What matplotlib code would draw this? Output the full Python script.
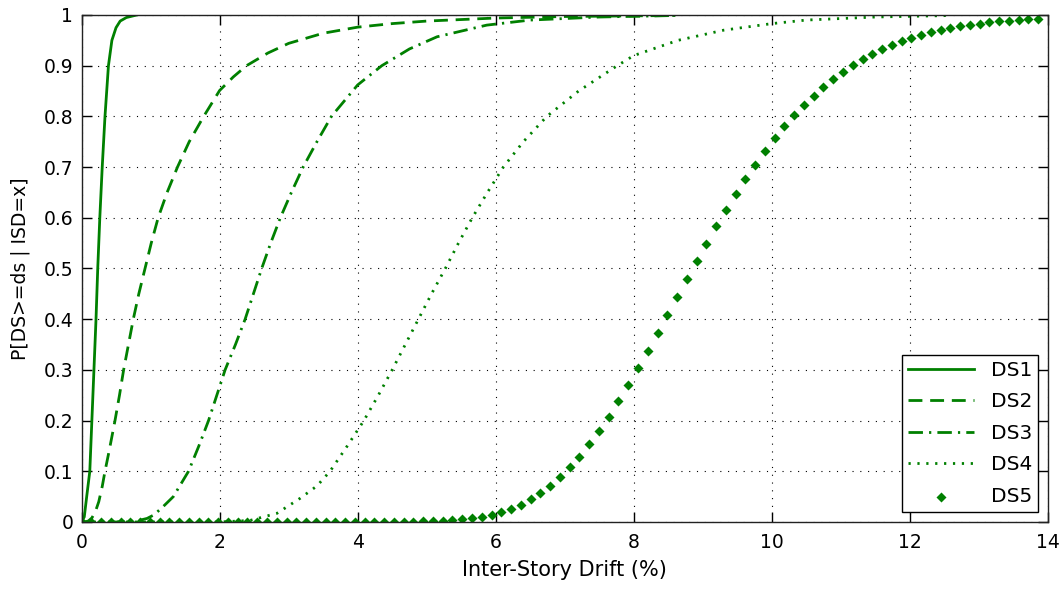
import numpy as np
import matplotlib
matplotlib.use('Agg')
import matplotlib.pyplot as plt

''' Fragility curves, P[DS>=ds | ISD=x], read off the reference picture. '''

green = '#008000'

ds1_x = [0, 0.04, 0.075, 0.12, 0.15, 0.18, 0.21, 0.235, 0.265, 0.30, 0.34, 0.39, 0.44, 0.50, 0.56, 0.65, 0.80]
ds1_y = [0, 0.01, 0.05, 0.10, 0.20, 0.30, 0.40, 0.50, 0.60, 0.70, 0.80, 0.90, 0.95, 0.975, 0.988, 0.995, 1.0]

ds2_x = [0, 0.05, 0.10, 0.15, 0.20, 0.25, 0.30, 0.34, 0.40, 0.485, 0.55, 0.61, 0.68, 0.75, 0.83, 0.92,
         1.01, 1.11, 1.24, 1.39, 1.56, 1.77, 2.0, 2.2, 2.39, 2.7, 3.0, 3.5, 4.0, 4.5, 5.0, 6.0, 7.0, 8.6]
ds2_y = [0, 0.0, 0.002, 0.008, 0.02, 0.04, 0.07, 0.10, 0.14, 0.20, 0.25, 0.30, 0.35, 0.40, 0.45, 0.50,
         0.55, 0.60, 0.65, 0.70, 0.75, 0.80, 0.851, 0.878, 0.90, 0.925, 0.944, 0.964, 0.976, 0.983, 0.988,
         0.994, 0.997, 0.999]

ds3_x = [0, 0.6, 0.8, 0.95, 1.05, 1.18, 1.33, 1.44, 1.55, 1.70, 1.84, 1.96, 2.08, 2.23, 2.37, 2.49, 2.61,
         2.74, 2.88, 3.04, 3.21, 3.41, 3.62, 4.0, 4.35, 4.75, 5.15, 5.87, 6.5, 7.5, 8.6]
ds3_y = [0, 0.0, 0.002, 0.007, 0.014, 0.03, 0.05, 0.075, 0.10, 0.15, 0.20, 0.25, 0.30, 0.35, 0.40, 0.45,
         0.50, 0.55, 0.60, 0.65, 0.70, 0.75, 0.80, 0.862, 0.90, 0.933, 0.957, 0.98, 0.99, 0.996, 0.999]

ds4_x = [0, 2.0, 2.44, 2.83, 3.17, 3.41, 3.60, 3.85, 4.09, 4.30, 4.50, 4.69, 4.88, 5.07, 5.27, 5.46, 5.66,
         5.88, 6.11, 6.40, 6.74, 7.2, 7.76, 8.0, 8.64, 9.3, 10.0, 10.5, 11.5, 12.6]
ds4_y = [0, 0.0, 0.003, 0.017, 0.047, 0.071, 0.10, 0.15, 0.20, 0.25, 0.30, 0.35, 0.40, 0.45, 0.50, 0.55,
         0.60, 0.65, 0.70, 0.75, 0.80, 0.85, 0.90, 0.92, 0.95, 0.97, 0.983, 0.99, 0.996, 0.999]

# DS5 is drawn as markers only, one every 14/99 % of drift
ds5_x = np.linspace(0, 14, 100)[:99]
ds5_y = [0.0, 0.0, 0.0, 0.0, 0.0, 0.0, 0.0, 0.0, 0.0, 0.0,
         0.0, 0.0, 0.0, 0.0, 0.0, 0.0, 0.0, 0.0, 0.0, 0.0,
         0.0, 0.0, 0.0, 0.0, 0.0, 0.0, 0.0, 0.0, 0.0, 0.0,
         0.0, 0.0, 0.0, 0.0, 0.0, 0.001, 0.001, 0.002, 0.003, 0.005,
         0.007, 0.010, 0.014, 0.019, 0.026, 0.034, 0.045, 0.057, 0.071, 0.088,
         0.108, 0.129, 0.153, 0.179, 0.208, 0.238, 0.270, 0.303, 0.337, 0.372,
         0.408, 0.444, 0.479, 0.514, 0.549, 0.583, 0.615, 0.647, 0.677, 0.705,
         0.732, 0.757, 0.781, 0.802, 0.823, 0.841, 0.858, 0.874, 0.888, 0.901,
         0.913, 0.923, 0.932, 0.941, 0.948, 0.955, 0.960, 0.966, 0.970, 0.974,
         0.978, 0.981, 0.983, 0.986, 0.988, 0.989, 0.991, 0.992, 0.993]

labels = ['DS1', 'DS2', 'DS3', 'DS4', 'DS5']
xticks = [0, 2, 4, 6, 8, 10, 12, 14]
yticks = [0, 0.1, 0.2, 0.3, 0.4, 0.5, 0.6, 0.7, 0.8, 0.9, 1]
yticklabels = ['0', '0.1', '0.2', '0.3', '0.4', '0.5', '0.6', '0.7', '0.8', '0.9', '1']

plt.rcParams['font.family'] = ['DejaVu Sans']
fig = plt.figure(figsize=(10.6, 5.9), dpi=100)
ax = fig.add_axes([0.0769, 0.1153, 0.9118, 0.8593])

lw = 2.0
ax.plot(ds1_x, ds1_y, color=green, lw=lw, ls='-', label=labels[0])
ax.plot(ds2_x, ds2_y, color=green, lw=lw, ls=(0, (5, 2.8)), label=labels[1])
ax.plot(ds3_x, ds3_y, color=green, lw=lw, ls=(0, (5.2, 2.2, 0.8, 2.2)), label=labels[2])
ax.plot(ds4_x, ds4_y, color=green, lw=lw, ls=(0, (0.8, 2.4)), label=labels[3])
ax.scatter(ds5_x, ds5_y, color=green, marker='D', s=26, linewidths=0, label=labels[4], zorder=2)

ax.set_xlim(0, 14)
ax.set_ylim(0, 1)
ax.set_xticks(xticks)
ax.set_xticklabels([str(t) for t in xticks])
ax.set_yticks(yticks)
ax.set_yticklabels(yticklabels)
ax.tick_params(direction='in', length=7, width=1, top=True, right=True, labelsize=13.5)
ax.tick_params(axis='x', pad=8)
ax.tick_params(axis='y', pad=6)
ax.grid(True, color='black', ls=(0, (1, 6)), lw=0.8)
for s in ax.spines.values():
    s.set_linewidth(1.0)
    s.set_color('#222222')

ax.set_xlabel('Inter-Story Drift (%)', fontsize=15, labelpad=6)
ax.set_ylabel('P[DS>=ds | ISD=x]', fontsize=13.5, labelpad=10)

leg = ax.legend(loc='lower right', fontsize=14.5, handlelength=3.3, labelspacing=0.62,
                scatterpoints=1, fancybox=False, framealpha=1, edgecolor='black',
                borderaxespad=0.5, borderpad=0.3)
leg.get_frame().set_linewidth(1.0)

plt.savefig('out.png', dpi=100)
